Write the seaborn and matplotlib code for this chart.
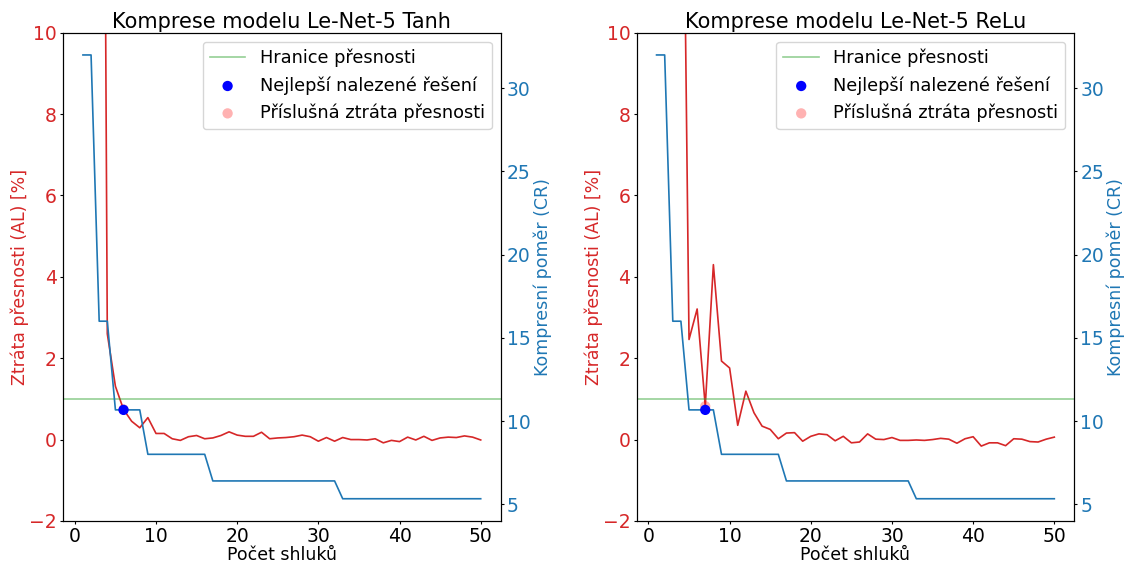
import numpy as np
import matplotlib.pyplot as plt
import seaborn as sns

# --- DATA ---
clusters = np.arange(1, 51)

# kompresni pomer (CR) - stejny pro oba modely
cr = [32.0, 32.0, 16.0, 16.0, 10.67, 10.67, 10.67, 10.67,
      8.0, 8.0, 8.0, 8.0, 8.0, 8.0, 8.0, 8.0,
      6.4, 6.4, 6.4, 6.4, 6.4, 6.4, 6.4, 6.4, 6.4, 6.4, 6.4, 6.4, 6.4, 6.4, 6.4, 6.4,
      5.33, 5.33, 5.33, 5.33, 5.33, 5.33, 5.33, 5.33, 5.33, 5.33, 5.33, 5.33,
      5.33, 5.33, 5.33, 5.33, 5.33, 5.33]

# ztrata presnosti (AL) [%]
al_tanh = [88, 85, 40, 2.6, 1.31, 0.74, 0.45, 0.29, 0.54, 0.15,
           0.15, 0.02, -0.02, 0.07, 0.10, 0.02, 0.04, 0.10, 0.19, 0.11,
           0.08, 0.08, 0.18, 0.02, 0.04, 0.05, 0.07, 0.11, 0.07, -0.04,
           0.05, -0.04, 0.05, 0.0, 0.0, -0.01, 0.02, -0.08, -0.02, -0.05,
           0.06, -0.01, 0.08, -0.02, 0.04, 0.06, 0.05, 0.09, 0.06, -0.01]

al_relu = [88, 87, 60, 20, 2.46, 3.21, 0.82, 4.30, 1.93, 1.76,
           0.35, 1.19, 0.66, 0.33, 0.25, 0.02, 0.16, 0.17, -0.04, 0.08,
           0.14, 0.12, -0.03, 0.08, -0.08, -0.06, 0.14, 0.01, 0.0, 0.05,
           -0.02, -0.02, -0.01, -0.02, 0.0, 0.03, 0.01, -0.09, 0.02, 0.07,
           -0.16, -0.08, -0.08, -0.15, 0.02, 0.01, -0.05, -0.06, 0.01, 0.06]

titles = ['Komprese modelu Le-Net-5 Tanh', 'Komprese modelu Le-Net-5 ReLu']
best_k = [6, 7]
al_limit = 1.0

# --- GRAF ---
plt.rcParams['font.family'] = ['DejaVu Sans']
plt.rcParams['font.size'] = 12

fig, axes = plt.subplots(1, 2, figsize=(11.26, 5.65), dpi=100)
fig.subplots_adjust(left=0.056, right=0.954, bottom=0.078, top=0.942, wspace=0.311)

for ax, al, title, k in zip(axes, [al_tanh, al_relu], titles, best_k):
    ax2 = ax.twinx()
    i = k - 1

    sns.lineplot(x=clusters, y=al, ax=ax, color='tab:red', linewidth=1.2, legend=False)
    hr = ax.axhline(al_limit, color='tab:green', alpha=0.5, linewidth=1.2, label='Hranice přesnosti')
    sc_al = ax.scatter([k], [al[i]], color='red', alpha=0.3, s=55, zorder=5,
                       label='Příslušná ztráta přesnosti', edgecolors='none')

    sns.lineplot(x=clusters, y=cr, ax=ax2, color='tab:blue', linewidth=1.2, legend=False)
    sc_cr = ax2.scatter([k], [cr[i]], color='blue', s=55, zorder=5,
                        label='Nejlepší nalezené řešení', edgecolors='none')

    ax.set_ylim(-2, 10)
    ax.set_xlabel('Počet shluků', fontsize=12.5, labelpad=0)
    ax.set_ylabel('Ztráta přesnosti (AL) [%]', color='tab:red', fontsize=12.5, labelpad=0)
    ax.tick_params(axis='y', labelcolor='tab:red', labelsize=13.5, length=2.5, pad=2)
    ax.tick_params(axis='x', labelsize=13.5, length=2.5, pad=2)
    ax2.set_ylabel('Kompresní poměr (CR)', color='tab:blue', fontsize=12.5, labelpad=2)
    ax2.tick_params(axis='y', labelcolor='tab:blue', labelsize=13.5, length=2.5, pad=2)
    ax.set_title(title, fontsize=15, pad=3.5)

    ax2.legend([hr, sc_cr, sc_al],
               ['Hranice přesnosti', 'Nejlepší nalezené řešení', 'Příslušná ztráta přesnosti'],
               loc='upper right', fontsize=12.8)

plt.savefig('out.png', dpi=100)
